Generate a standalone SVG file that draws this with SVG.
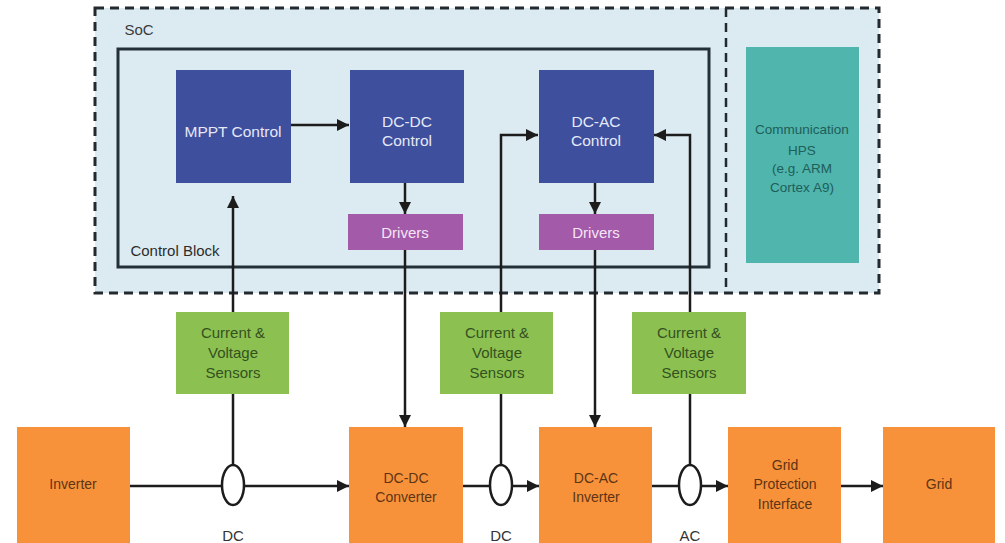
<svg xmlns="http://www.w3.org/2000/svg" width="1005" height="543" viewBox="0 0 1005 543">
  <style>
    text { font-family: "Liberation Sans", Arial, sans-serif; text-anchor: middle; }
    .ctl { fill: #3d4f9d; }
    .ctl-t { fill: #e6e8f8; font-size: 15.5px; }
    .drv { fill: #a35aa9; }
    .drv-t { fill: #f6e6f6; font-size: 15px; }
    .sen { fill: #8cc152; }
    .sen-t { fill: #34511e; font-size: 15px; }
    .pwr { fill: #f7923a; }
    .pwr-t { fill: #5e3414; font-size: 14px; }
    .com { fill: #4fb5ad; }
    .com-t { fill: #1f5e59; font-size: 13.5px; }
    .lbl { fill: #333333; font-size: 15px; }
    .wire { fill: none; stroke: #1c1c1c; stroke-width: 2.5; }
    .tap { fill: #ffffff; stroke: #1c1c1c; stroke-width: 2.5; }
  </style>
  <defs>
    <marker id="arrow" viewBox="0 0 12 12" refX="12" refY="6" markerWidth="12" markerHeight="12" markerUnits="userSpaceOnUse" orient="auto">
      <path d="M0,0 L12,6 L0,12 z" fill="#1c1c1c"/>
    </marker>
  </defs>

  <rect width="1005" height="543" fill="#ffffff"/>

  <!-- SoC container -->
  <g id="soc">
    <rect x="95" y="8" width="784" height="285" fill="#dcebf1" stroke="#222a30" stroke-width="3" stroke-dasharray="9 6"/>
    <line x1="726" y1="8" x2="726" y2="293" stroke="#222a30" stroke-width="2.5" stroke-dasharray="9 6"/>
    <text x="139" y="35" class="lbl" style="fill:#3a3a3a">SoC</text>
  </g>

  <!-- Control block frame -->
  <g id="control-block">
    <rect x="118" y="49" width="591" height="218" fill="none" stroke="#243038" stroke-width="3"/>
    <text x="175" y="256" class="lbl" style="fill:#2c2c2c">Control Block</text>
  </g>

  <!-- Connectors -->
  <g id="connectors">
    <path class="wire" d="M130,486 H349" marker-end="url(#arrow)"/>
    <path class="wire" d="M463,486 H539" marker-end="url(#arrow)"/>
    <path class="wire" d="M652,486 H728" marker-end="url(#arrow)"/>
    <path class="wire" d="M841,486 H883" marker-end="url(#arrow)"/>
    <path class="wire" d="M233,466 V196" marker-end="url(#arrow)"/>
    <path class="wire" d="M501,466 V135 H538" marker-end="url(#arrow)"/>
    <path class="wire" d="M690,466 V135 H654" marker-end="url(#arrow)"/>
    <path class="wire" d="M291,125 H349" marker-end="url(#arrow)"/>
    <path class="wire" d="M405,183 V214" marker-end="url(#arrow)"/>
    <path class="wire" d="M595,183 V214" marker-end="url(#arrow)"/>
    <path class="wire" d="M405,250 V427" marker-end="url(#arrow)"/>
    <path class="wire" d="M595,250 V427" marker-end="url(#arrow)"/>
  </g>

  <!-- Control units -->
  <g id="mppt-control">
    <rect x="176" y="70" width="115" height="113" class="ctl"/>
    <text x="233" y="137" class="ctl-t">MPPT Control</text>
  </g>
  <g id="dcdc-control">
    <rect x="350" y="70" width="114" height="113" class="ctl"/>
    <text x="407" y="127" class="ctl-t">DC-DC</text>
    <text x="407" y="146" class="ctl-t">Control</text>
  </g>
  <g id="dcac-control">
    <rect x="539" y="70" width="115" height="113" class="ctl"/>
    <text x="596" y="127" class="ctl-t">DC-AC</text>
    <text x="596" y="146" class="ctl-t">Control</text>
  </g>
  <g id="dcdc-drivers">
    <rect x="348" y="214" width="115" height="36" class="drv"/>
    <text x="405" y="238" class="drv-t">Drivers</text>
  </g>
  <g id="dcac-drivers">
    <rect x="539" y="214" width="115" height="36" class="drv"/>
    <text x="596" y="238" class="drv-t">Drivers</text>
  </g>
  <g id="communication-hps">
    <rect x="746" y="47" width="113" height="216" class="com"/>
    <text x="802" y="134" class="com-t">Communication</text>
    <text x="802" y="155" class="com-t">HPS</text>
    <text x="802" y="173" class="com-t">(e.g. ARM</text>
    <text x="802" y="192" class="com-t">Cortex A9)</text>
  </g>

  <!-- Sensors -->
  <g id="sensor-pv">
    <rect x="176" y="312" width="113" height="82" class="sen"/>
    <text x="233" y="338" class="sen-t">Current &amp;</text>
    <text x="233" y="358" class="sen-t">Voltage</text>
    <text x="233" y="378" class="sen-t">Sensors</text>
  </g>
  <g id="sensor-dc-link">
    <rect x="440" y="312" width="113" height="82" class="sen"/>
    <text x="497" y="338" class="sen-t">Current &amp;</text>
    <text x="497" y="358" class="sen-t">Voltage</text>
    <text x="497" y="378" class="sen-t">Sensors</text>
  </g>
  <g id="sensor-ac">
    <rect x="632" y="312" width="114" height="82" class="sen"/>
    <text x="689" y="338" class="sen-t">Current &amp;</text>
    <text x="689" y="358" class="sen-t">Voltage</text>
    <text x="689" y="378" class="sen-t">Sensors</text>
  </g>

  <!-- Power path -->
  <g id="inverter">
    <rect x="17" y="427" width="113" height="120" class="pwr"/>
    <text x="73" y="489" class="pwr-t">Inverter</text>
  </g>
  <g id="dcdc-converter">
    <rect x="349" y="427" width="114" height="120" class="pwr"/>
    <text x="406" y="483" class="pwr-t">DC-DC</text>
    <text x="406" y="502" class="pwr-t">Converter</text>
  </g>
  <g id="dcac-inverter">
    <rect x="539" y="427" width="113" height="120" class="pwr"/>
    <text x="596" y="483" class="pwr-t">DC-AC</text>
    <text x="596" y="502" class="pwr-t">Inverter</text>
  </g>
  <g id="grid-protection">
    <rect x="728" y="427" width="113" height="120" class="pwr"/>
    <text x="785" y="470" class="pwr-t">Grid</text>
    <text x="785" y="489" class="pwr-t">Protection</text>
    <text x="785" y="509" class="pwr-t">Interface</text>
  </g>
  <g id="grid">
    <rect x="883" y="427" width="112" height="120" class="pwr"/>
    <text x="939" y="489" class="pwr-t">Grid</text>
  </g>

  <!-- Measurement taps -->
  <g id="tap-dc-in">
    <ellipse cx="233" cy="485" rx="11" ry="20" class="tap"/>
    <text x="233" y="541" class="lbl">DC</text>
  </g>
  <g id="tap-dc-link">
    <ellipse cx="501" cy="485" rx="11" ry="20" class="tap"/>
    <text x="501" y="541" class="lbl">DC</text>
  </g>
  <g id="tap-ac">
    <ellipse cx="690" cy="485" rx="11" ry="20" class="tap"/>
    <text x="690" y="541" class="lbl">AC</text>
  </g>
</svg>
